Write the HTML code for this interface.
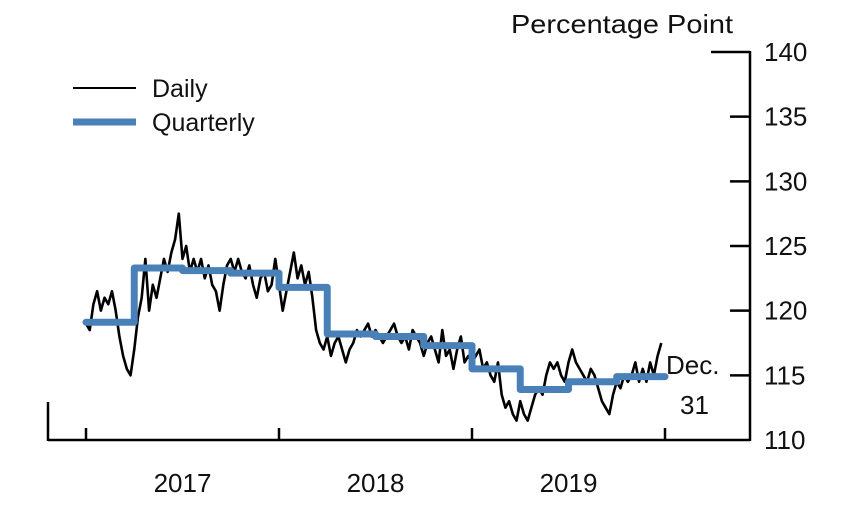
<!DOCTYPE html>
<html><head><meta charset="utf-8"><style>
body{margin:0;background:#fff}
svg text{font-family:"Liberation Sans",sans-serif;fill:#111}
</style></head><body>
<svg id="c" width="850" height="505">
<g id="axes"></g><g id="marks"></g>
</svg>
<script>
const yTicks=[110,115,120,125,130,135,140];
const yearLabels=["2017","2018","2019"];
const quarterly=[119.1,123.3,123.1,122.9,121.8,118.2,118.0,117.3,115.5,113.9,114.5,114.9];
const daily2017=[119,118.5,120.5,121.5,120,121,120.5,121.5,120,118,116.5,115.5,115,117,119.5,121,124,120,122,121,122.5,124,123,124.5,125.5,127.5,124,125,123,124,123,124,122.5,123.5,122,121.5,120,122,123.5,124,123,124,123,122.5,123.5,122,121,122.5,123,121.5,122,124];
const daily2018=[122,120,121.5,123,124.5,122.5,123.5,122,123,121,118.5,117.5,117,118,116.5,117.5,118,117,116,117,117.5,118.5,118,118.5,119,118,118.5,118,117.5,118,118.5,119,118,117.5,118,117,118.5,118,117.5,116.5,117.5,118,117,116,118.5,116.5,117,115.5,117,118,116,116.5];
const daily2019=[116,116.5,117,115.5,116,115,114.5,116,113.5,112.5,113,112,111.5,113,112,111.5,112.5,113.5,114,113.5,115,116,115.5,116,115,114.5,116,117,116,115.5,115,114.5,115.5,115,114,113,112.5,112,113.5,114.5,114,115,114.5,115,116,114.5,115.5,114.5,116,115,116.5,117.5];
const NS="http://www.w3.org/2000/svg";
const X0=86,X1=665,Y0=440,Y1=52;
const x=t=>X0+(X1-X0)*t/3;
const y=v=>Y0-(v-110)/30*(Y0-Y1);
const ax=document.getElementById('axes'),mk=document.getElementById('marks');
function el(tag,attrs,parent,txt){const e=document.createElementNS(NS,tag);for(const k in attrs)e.setAttribute(k,attrs[k]);if(txt!==undefined)e.textContent=txt;parent.appendChild(e);return e;}
let e;
e=el('line',{x1:48,y1:Y0,x2:750,y2:Y0,stroke:'#000','stroke-width':2.5},ax);

e=el('line',{x1:48,y1:Y0+1,x2:48,y2:402,stroke:'#000','stroke-width':2.5},ax);

e=el('line',{x1:750,y1:Y0+1,x2:750,y2:Y1-1,stroke:'#000','stroke-width':2.5},ax);

e=el('line',{x1:711,y1:Y1,x2:750,y2:Y1,stroke:'#000','stroke-width':2.5},ax);

yTicks.forEach(v=>{
 if(v!==140&&v!==110){e=el('line',{x1:730,y1:y(v),x2:750,y2:y(v),stroke:'#000','stroke-width':2.5},ax);
 }
 e=el('text',{x:764,y:y(v)+9,'font-size':26},ax,String(v));
 
});
for(let i=0;i<=3;i++){e=el('line',{x1:x(i),y1:Y0,x2:x(i),y2:Y0-12,stroke:'#000','stroke-width':2.5},ax);
 }
yearLabels.forEach((l,i)=>{e=el('text',{x:x(i+0.5),y:492,'font-size':26,'text-anchor':'middle'},ax,l);
 });
e=el('text',{x:733,y:33,'font-size':26,'text-anchor':'end',textLength:222,lengthAdjust:'spacingAndGlyphs'},ax,'Percentage Point');

const daily=daily2017.concat(daily2018,daily2019);
const pts=daily.map((v,i)=>x(i/52)+','+y(v)).join(' ');
e=el('polyline',{points:pts,fill:'none',stroke:'#000','stroke-width':2.6,'stroke-linejoin':'round'},mk);

let d='';quarterly.forEach((v,i)=>{d+=(i?'L':'M')+x(i/4)+','+y(v)+'L'+x((i+1)/4)+','+y(v);});
e=el('path',{d:d,fill:'none',stroke:'#4a80b8','stroke-width':7,'stroke-linejoin':'round','stroke-linecap':'round'},mk);

e=el('line',{x1:73,y1:88,x2:136,y2:88,stroke:'#000','stroke-width':2},ax);

e=el('text',{x:152,y:97,'font-size':25},ax,'Daily');

e=el('line',{x1:73,y1:122,x2:136,y2:122,stroke:'#4a80b8','stroke-width':7},ax);

e=el('text',{x:152,y:131,'font-size':25},ax,'Quarterly');

e=el('text',{x:666,y:374,'font-size':26},ax,'Dec.');

e=el('text',{x:680,y:414,'font-size':26},ax,'31');

</script>
</body></html>
